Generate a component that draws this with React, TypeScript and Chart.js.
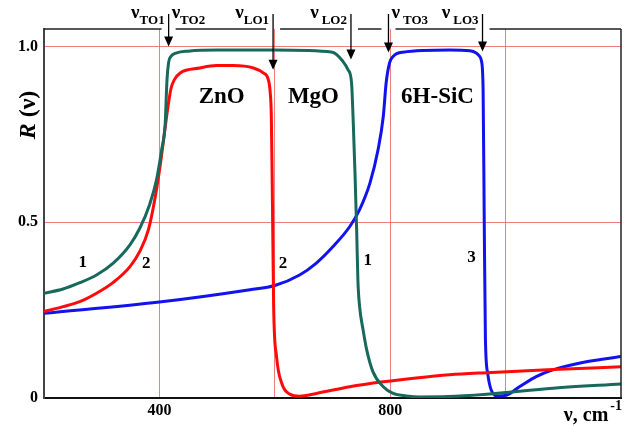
import React, { useEffect, useRef } from "react";
import { Chart, registerables } from "chart.js";

Chart.register(...registerables);

// ---- axis ticks ----
const xTicks = [400, 600, 800, 1000];
const xTickLabels = ["400", "", "800", ""];
const yTicks = [0, 0.5, 1.0];
const yTickLabels = ["0", "0.5", "1.0"];

// ---- curve 1: MgO ----
const mgoNu = [200, 233, 262, 291, 320, 349, 366, 383, 395, 404, 410, 413, 416, 420, 430, 450, 500, 600, 700, 718, 727, 733, 736, 739, 742, 744, 747, 753, 759, 770, 788, 805, 828, 851, 900, 967, 1082, 1200];
const mgoR = [0.298, 0.31, 0.328, 0.35, 0.384, 0.436, 0.483, 0.55, 0.621, 0.707, 0.78, 0.9, 0.955, 0.972, 0.982, 0.987, 0.99, 0.99, 0.984, 0.958, 0.934, 0.897, 0.783, 0.64, 0.47, 0.336, 0.26, 0.194, 0.139, 0.075, 0.032, 0.013, 0.006, 0.003, 0.004, 0.011, 0.028, 0.04];

// ---- curve 2: ZnO ----
const znoNu = [200, 233, 262, 291, 320, 349, 366, 381, 393, 402, 410, 415, 420, 426, 436, 470, 499, 528, 563, 580, 588, 592, 594, 596, 598, 603, 612, 626, 643, 672, 730, 788, 845, 903, 967, 1082, 1200];
const znoR = [0.246, 0.26, 0.274, 0.298, 0.329, 0.374, 0.417, 0.479, 0.574, 0.669, 0.77, 0.83, 0.88, 0.906, 0.925, 0.939, 0.946, 0.946, 0.939, 0.925, 0.91, 0.87, 0.8, 0.545, 0.26, 0.118, 0.042, 0.011, 0.005, 0.013, 0.032, 0.046, 0.057, 0.066, 0.072, 0.081, 0.089];

// ---- curve 3: 6H-SiC ----
const sicNu = [200, 400, 557, 600, 643, 672, 701, 730, 747, 765, 779, 788, 793, 799, 805, 822, 903, 938, 949, 955, 958, 961, 963, 965, 969, 975, 987, 1001, 1024, 1053, 1082, 1140, 1200];
const sicR = [0.241, 0.273, 0.308, 0.32, 0.35, 0.384, 0.431, 0.488, 0.536, 0.612, 0.707, 0.801, 0.897, 0.954, 0.972, 0.984, 0.99, 0.988, 0.982, 0.972, 0.96, 0.88, 0.5, 0.17, 0.07, 0.023, 0.006, 0.008, 0.032, 0.061, 0.08, 0.103, 0.118];

// ---- annotations ----
const arrowNu = [416, 597, 732, 797, 960];
const arrowTipR = [1.0, 0.934, 0.963, 0.983, 0.986];
const modeNames = ["TO1", "TO2", "LO1", "LO2", "TO3", "LO3"];
const modeArrow = [0, 0, 1, 2, 3, 4];
const modeSide = ["left", "right", "left", "left", "right", "left"];
const modeGap = [0, 0, 0, 3, 3, 3];

const materialNames = ["ZnO", "MgO", "6H-SiC"];
const materialNu = [508, 667, 882];
const materialR = [0.855, 0.855, 0.855];

const curveNums = ["1", "2", "2", "1", "3"];
const curveNumNu = [267, 377, 614, 761, 941];
const curveNumR = [0.385, 0.382, 0.382, 0.39, 0.399];

const TEAL = "#17695c";
const RED = "#ff0a0a";
const BLUE = "#1212ee";
const GRID = "rgba(235,95,95,0.8)";
const SERIF = "'Liberation Serif', 'Times New Roman', serif";

const pts = (xs: number[], ys: number[]) => xs.map((x, i) => ({ x, y: ys[i] }));

const annotPlugin = {
  id: "annot",
  afterDatasetsDraw(chart: any) {
    const { ctx, chartArea, scales } = chart;
    const xs = scales.x;
    const ys = scales.y;
    ctx.save();
    // right border
    ctx.strokeStyle = "#222";
    ctx.lineWidth = 1.5;
    ctx.beginPath();
    ctx.moveTo(chartArea.right, chartArea.top);
    ctx.lineTo(chartArea.right, chartArea.bottom);
    ctx.stroke();
    // top border with gaps at arrows
    const arrowXs = arrowNu.map((v) => xs.getPixelForValue(v));
    ctx.beginPath();
    let start = chartArea.left;
    for (const ax of arrowXs) {
      ctx.moveTo(start, chartArea.top);
      ctx.lineTo(ax - 7, chartArea.top);
      start = ax + 7;
    }
    ctx.moveTo(start, chartArea.top);
    ctx.lineTo(chartArea.right, chartArea.top);
    ctx.stroke();

    // arrows
    ctx.fillStyle = "#000";
    ctx.strokeStyle = "#000";
    ctx.lineWidth = 1.3;
    arrowXs.forEach((ax, i) => {
      const tip = ys.getPixelForValue(arrowTipR[i]);
      ctx.beginPath();
      ctx.moveTo(ax, 14);
      ctx.lineTo(ax, tip - 8);
      ctx.stroke();
      ctx.beginPath();
      ctx.moveTo(ax - 4.5, tip - 10);
      ctx.lineTo(ax + 4.5, tip - 10);
      ctx.lineTo(ax, tip);
      ctx.closePath();
      ctx.fill();
    });

    // mode labels
    const nuFont = `bold 19px ${SERIF}`;
    const subFont = `bold 13px ${SERIF}`;
    ctx.textBaseline = "alphabetic";
    ctx.textAlign = "left";
    modeNames.forEach((name, i) => {
      const ax = arrowXs[modeArrow[i]];
      ctx.font = nuFont;
      const wNu = ctx.measureText("ν").width;
      ctx.font = subFont;
      const wSub = ctx.measureText(name).width;
      const gap = modeGap[i];
      const total = wNu + gap + wSub;
      const x0 = modeSide[i] === "left" ? ax - 4 - total : ax + 3;
      ctx.font = nuFont;
      ctx.fillText("ν", x0, 17.5);
      ctx.font = subFont;
      ctx.fillText(name, x0 + wNu + gap, 24);
    });

    // material labels
    ctx.font = `bold 23px ${SERIF}`;
    ctx.textAlign = "center";
    ctx.textBaseline = "middle";
    materialNames.forEach((n, i) => {
      ctx.fillText(n, xs.getPixelForValue(materialNu[i]), ys.getPixelForValue(materialR[i]));
    });

    // curve numbers
    ctx.font = `bold 17px ${SERIF}`;
    curveNums.forEach((n, i) => {
      ctx.fillText(n, xs.getPixelForValue(curveNumNu[i]), ys.getPixelForValue(curveNumR[i]));
    });

    // y axis title: R (ν)
    ctx.save();
    ctx.translate(29, 115);
    ctx.rotate(-Math.PI / 2);
    ctx.textBaseline = "middle";
    ctx.textAlign = "left";
    const fR = `italic bold 24px ${SERIF}`;
    const fP = `bold 24px ${SERIF}`;
    ctx.font = fR;
    const wR = ctx.measureText("R").width;
    ctx.font = fP;
    const wP = ctx.measureText(" (ν)").width;
    const sx = -(wR + wP) / 2;
    ctx.font = fR;
    ctx.fillText("R", sx, 0);
    ctx.font = fP;
    ctx.fillText(" (ν)", sx + wR, 0);
    ctx.restore();

    // x axis title: ν, cm^-1
    ctx.textAlign = "left";
    ctx.textBaseline = "alphabetic";
    const fMain = `bold 20px ${SERIF}`;
    const fSup = `bold 14px ${SERIF}`;
    ctx.font = fMain;
    const wMain = ctx.measureText("ν, cm").width;
    ctx.font = fSup;
    const wSup = ctx.measureText("-1").width;
    const endX = chartArea.right + 1;
    const mx = endX - wSup - 2 - wMain;
    ctx.font = fMain;
    ctx.fillText("ν, cm", mx, 421);
    ctx.font = fSup;
    ctx.fillText("-1", endX - wSup, 410);

    ctx.restore();
  },
};

export default function App() {
  const ref = useRef<HTMLCanvasElement | null>(null);
  useEffect(() => {
    if (!ref.current) return;
    const chart = new Chart(ref.current, {
      type: "scatter",
      data: {
        datasets: [
          { label: "MgO", data: pts(mgoNu, mgoR), borderColor: TEAL, borderWidth: 3, showLine: true, pointRadius: 0, cubicInterpolationMode: "monotone" },
          { label: "ZnO", data: pts(znoNu, znoR), borderColor: RED, borderWidth: 3, showLine: true, pointRadius: 0, cubicInterpolationMode: "monotone" },
          { label: "6H-SiC", data: pts(sicNu, sicR), borderColor: BLUE, borderWidth: 3, showLine: true, pointRadius: 0, cubicInterpolationMode: "monotone" },
        ],
      },
      options: {
        animation: false,
        responsive: true,
        maintainAspectRatio: false,
        layout: { padding: { top: 29, right: 6, left: 0, bottom: 0 } },
        plugins: { legend: { display: false }, tooltip: { enabled: false } },
        scales: {
          x: {
            type: "linear",
            min: 200,
            max: 1200,
            afterBuildTicks: (s: any) => { s.ticks = xTicks.map((v) => ({ value: v })); },
            afterFit: (s: any) => { s.height = 28; },
            ticks: {
              padding: 3,
              color: "#000",
              font: { family: SERIF, size: 16, weight: "bold" },
              maxRotation: 0,
              autoSkip: false,
              callback: (v: any) => xTickLabels[xTicks.indexOf(Number(v))] ?? "",
            },
            grid: { color: GRID, lineWidth: 1, drawTicks: false },
            border: { display: true, color: "#111", width: 2 },
          },
          y: {
            type: "linear",
            min: 0,
            max: 1.05,
            afterBuildTicks: (s: any) => { s.ticks = yTicks.map((v) => ({ value: v })); },
            afterFit: (s: any) => { s.width = 44; },
            ticks: {
              padding: 6,
              color: "#000",
              font: { family: SERIF, size: 16, weight: "bold" },
              callback: (v: any) => {
                const i = yTicks.findIndex((t) => Math.abs(t - Number(v)) < 1e-6);
                return i >= 0 ? yTickLabels[i] : "";
              },
            },
            grid: {
              color: (c: any) => (c.tick && c.tick.value === 0 ? "rgba(0,0,0,0)" : GRID),
              lineWidth: 1,
              drawTicks: false,
            },
            border: { display: true, color: "#444", width: 2 },
          },
        },
      },
      plugins: [annotPlugin],
    } as any);
    return () => chart.destroy();
  }, []);
  return (
    <div style={{ position: "fixed", left: 0, top: 0, width: 627, height: 426, background: "#fff" }}>
      <canvas ref={ref} />
    </div>
  );
}
